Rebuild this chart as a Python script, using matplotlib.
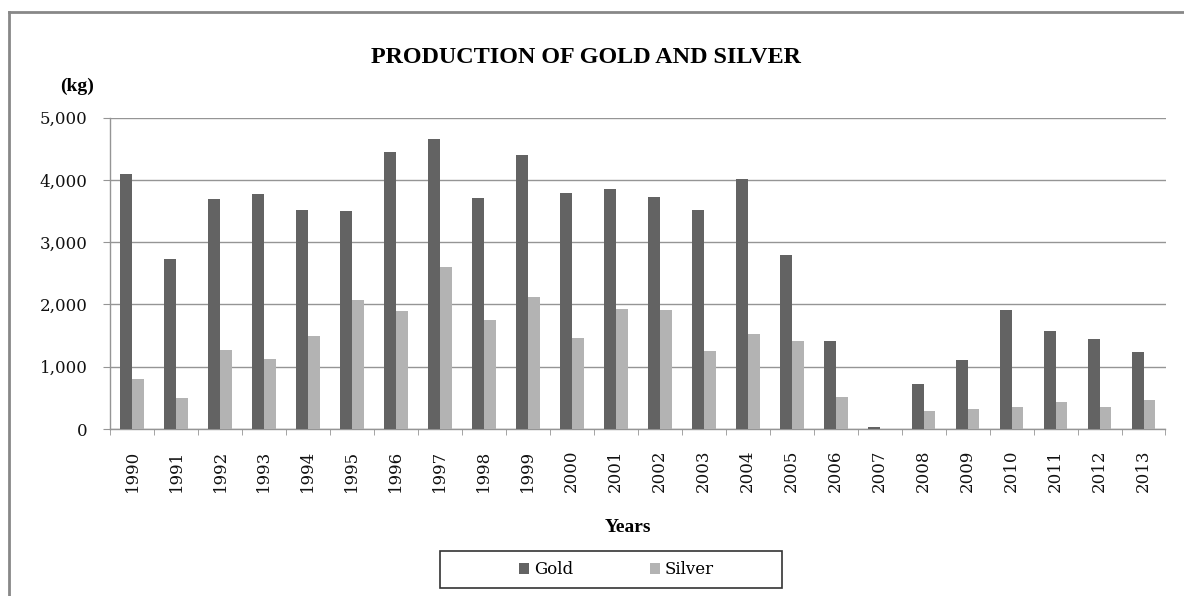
import numpy as np
import matplotlib
matplotlib.use("Agg")
import matplotlib.pyplot as plt
from matplotlib.lines import Line2D
from matplotlib.patches import Rectangle
from matplotlib.ticker import FuncFormatter

years = [str(y) for y in range(1990, 2014)]
gold = [4100, 2735, 3690, 3770, 3520, 3500, 4450, 4655, 3705, 4405, 3790, 3850,
        3725, 3515, 4010, 2800, 1418, 37, 718, 1108, 1910, 1580, 1440, 1232]
silver = [803, 493, 1274, 1129, 1499, 2077, 1890, 2597, 1746, 2120, 1457, 1932,
          1911, 1253, 1521, 1418, 509, 0, 284, 326, 349, 429, 349, 471]

W, H = 1184, 596
fig = plt.figure(figsize=(W / 100, H / 100), dpi=100)
ax = fig.add_axes([110 / W, 1 - 429 / H, (1165.5 - 110) / W, (429 - 117.7) / H])

grid_col = "#959595"
x = np.arange(len(years))
bw = 0.27
ax.bar(x - bw / 2, gold, bw, color="#636363", label="Gold", zorder=3)
ax.bar(x + bw / 2, silver, bw, color="#b3b3b3", label="Silver", zorder=3)

ax.set_xlim(-0.5, len(years) - 0.5)
ax.set_ylim(0, 5000)
ax.set_yticks(np.arange(0, 5001, 1000))
ax.yaxis.set_major_formatter(FuncFormatter(lambda v, p: f"{int(v):,}"))
ax.grid(axis="y", color=grid_col, lw=1, zorder=0)

ax.set_xticks(x)
ax.set_xticklabels(years, rotation=90)
ax.set_xticks(np.arange(-0.5, len(years), 1), minor=True)
ax.tick_params(axis="x", which="major", length=0, pad=15)
ax.tick_params(axis="x", which="minor", length=4.3, color=grid_col, direction="out")
ax.tick_params(axis="y", length=5, color=grid_col, pad=11)

tick_font = {"family": "DejaVu Serif", "size": 12}
for lab in ax.get_xticklabels() + ax.get_yticklabels():
    lab.set_fontfamily(tick_font["family"])
    lab.set_fontsize(tick_font["size"])
    lab.set_color("#111111")

for s in ["top", "right"]:
    ax.spines[s].set_visible(False)
for s in ["left", "bottom"]:
    ax.spines[s].set_color(grid_col)
    ax.spines[s].set_linewidth(1)

# text
fig.text(586 / W, 1 - 57.5 / H, "PRODUCTION OF GOLD AND SILVER", ha="center", va="center",
         family="Liberation Serif", weight="bold", fontsize=17.4)
fig.text(77 / W, 1 - 86.5 / H, "(kg)", ha="center", va="center",
         family="Liberation Serif", weight="bold", fontsize=14)
fig.text(627.5 / W, 1 - 527 / H, "Years", ha="center", va="center",
         family="Liberation Serif", weight="bold", fontsize=14)

# legend
leg = fig.legend(loc="center", bbox_to_anchor=(616.5 / W, 1 - 570 / H), ncol=2,
                 frameon=False, handlelength=0.6, handleheight=0.6,
                 handletextpad=0.3, columnspacing=4.6,
                 prop={"family": "DejaVu Serif", "size": 12})
fig.patches.append(Rectangle((440 / W, 1 - 588 / H), (782 - 440) / W, (588 - 551) / H,
                             transform=fig.transFigure, fill=False,
                             edgecolor="#333333", lw=1.2))

# outer chart border
fig.lines.append(Line2D([9 / W, 9 / W], [0, 1 - 12 / H], transform=fig.transFigure,
                        color="#888888", lw=2))
fig.lines.append(Line2D([9 / W, 1], [1 - 12 / H, 1 - 12 / H], transform=fig.transFigure,
                        color="#888888", lw=2))

fig.savefig("out.png", dpi=100)
